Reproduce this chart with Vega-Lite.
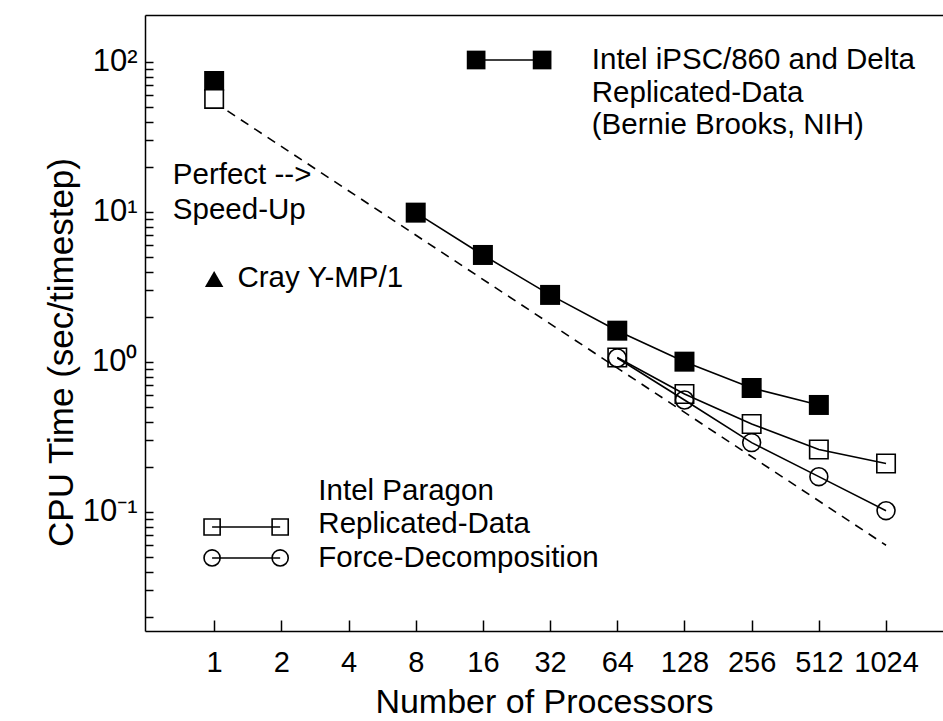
{
  "$schema": "https://vega.github.io/schema/vega-lite/v6.json",
  "width": 798,
  "height": 616,
  "autosize": {"type": "none"},
  "padding": {"left": 145, "top": 15, "right": 0, "bottom": 90},
  "background": "white",
  "config": {
    "view": {"stroke": null},
    "font": "Liberation Sans",
    "axis": {"grid": false, "domainColor": "black", "tickColor": "black", "labelColor": "black", "titleColor": "black", "domainWidth": 1.5, "tickWidth": 1.5, "labelFont": "Liberation Sans", "titleFont": "Liberation Sans"}
  },
  "datasets": {
    "series": [
      {"s": "perfect", "n": 1, "t": 54},
      {"s": "perfect", "n": 1024, "t": 0.06},
      {"s": "delta", "n": 1, "t": 74.7},
      {"s": "delta", "n": 8, "t": 9.9},
      {"s": "delta", "n": 16, "t": 5.17},
      {"s": "delta", "n": 32, "t": 2.8},
      {"s": "delta", "n": 64, "t": 1.617},
      {"s": "delta", "n": 128, "t": 1.005},
      {"s": "delta", "n": 256, "t": 0.671},
      {"s": "delta", "n": 512, "t": 0.517},
      {"s": "rd", "n": 1, "t": 56.7},
      {"s": "rd", "n": 64, "t": 1.071},
      {"s": "rd", "n": 128, "t": 0.612},
      {"s": "rd", "n": 256, "t": 0.386},
      {"s": "rd", "n": 512, "t": 0.261},
      {"s": "rd", "n": 1024, "t": 0.2106},
      {"s": "fd", "n": 64, "t": 1.063},
      {"s": "fd", "n": 128, "t": 0.558},
      {"s": "fd", "n": 256, "t": 0.29},
      {"s": "fd", "n": 512, "t": 0.172},
      {"s": "fd", "n": 1024, "t": 0.102},
      {"s": "cray", "n": 1, "t": 3.57}
    ],
    "leg": [
      {"g": "L1", "n": 14.92, "t": 103.1},
      {"g": "L1", "n": 29.47, "t": 103.1},
      {"g": "L2", "n": 0.979, "t": 0.0794},
      {"g": "L2", "n": 1.976, "t": 0.0794},
      {"g": "L3", "n": 0.979, "t": 0.0494},
      {"g": "L3", "n": 1.976, "t": 0.0494}
    ],
    "txt": [
      {"label": "Intel iPSC/860 and Delta", "n": 49.2, "t": 90.0},
      {"label": "Replicated-Data", "n": 49.2, "t": 54.5},
      {"label": "(Bernie Brooks, NIH)", "n": 49.2, "t": 33.0},
      {"label": "Perfect -->", "n": 0.653, "t": 15.3},
      {"label": "Speed-Up", "n": 0.653, "t": 8.94},
      {"label": "Cray Y-MP/1", "n": 1.272, "t": 3.18},
      {"label": "Intel Paragon", "n": 2.93, "t": 0.1202},
      {"label": "Replicated-Data", "n": 2.93, "t": 0.0724},
      {"label": "Force-Decomposition", "n": 2.93, "t": 0.043}
    ]
  },
  "layer": [
    {
      "data": {"name": "series"},
      "transform": [{"filter": "datum.s == 'perfect'"}],
      "mark": {"type": "line", "strokeDash": [9, 7], "color": "black", "strokeWidth": 1.6},
      "encoding": {
        "x": {"field": "n", "type": "quantitative", "scale": {"type": "log", "base": 2, "domain": [0.49, 1843], "nice": false},
          "axis": {"orient": "bottom", "values": [1, 2, 4, 8, 16, 32, 64, 128, 256, 512, 1024], "format": "d", "tickSize": -11, "labelPadding": 28, "labelFontSize": 29, "labelFlush": false, "labelOverlap": false,
            "title": "Number of Processors", "titleFontSize": 34, "titleFontWeight": "normal", "titleY": 81, "titleBaseline": "alphabetic"}},
        "y": {"field": "t", "type": "quantitative", "scale": {"type": "log", "domain": [0.01609, 205.7], "nice": false},
          "axis": {"orient": "left",
            "values": [0.02, 0.03, 0.04, 0.05, 0.06, 0.07, 0.08, 0.09, 0.1, 0.2, 0.3, 0.4, 0.5, 0.6, 0.7, 0.8, 0.9, 1, 2, 3, 4, 5, 6, 7, 8, 9, 10, 20, 30, 40, 50, 60, 70, 80, 90, 100],
            "labelExpr": "datum.value == 100 ? '10²' : datum.value == 10 ? '10¹' : datum.value == 1 ? '10⁰' : datum.value == 0.1 ? '10⁻¹' : ''",
            "tickSize": -8,
            "domain": true,
            "labelPadding": 16, "labelFontSize": 31, "labelFlush": false, "labelOverlap": false,
            "title": "CPU Time (sec/timestep)", "titleFontSize": 35, "titleFontWeight": "normal", "titleX": -73, "titleY": 337, "titleBaseline": "alphabetic"}}
      }
    },
    {
      "data": {"name": "series"},
      "transform": [{"filter": "datum.s != 'perfect' && datum.s != 'cray' && datum.n > 1"}],
      "mark": {"type": "line", "color": "black", "strokeWidth": 1.6},
      "encoding": {
        "x": {"field": "n", "type": "quantitative", "scale": {"type": "log", "base": 2, "domain": [0.49, 1843], "nice": false},
          "axis": {"orient": "top", "ticks": false, "labels": false, "domain": true, "title": null}},
        "y": {"field": "t", "type": "quantitative", "scale": {"type": "log", "domain": [0.01609, 205.7], "nice": false}, "axis": null},
        "detail": {"field": "s"}
      }
    },
    {
      "data": {"name": "leg"},
      "mark": {"type": "line", "color": "black", "strokeWidth": 1.6},
      "encoding": {
        "x": {"field": "n", "type": "quantitative", "axis": null},
        "y": {"field": "t", "type": "quantitative", "axis": null},
        "detail": {"field": "g"}
      }
    },
    {
      "data": {"name": "series"},
      "transform": [{"filter": "datum.s == 'delta'"}],
      "mark": {"type": "point", "shape": "square", "filled": true, "color": "black", "opacity": 1, "size": 400},
      "encoding": {
        "x": {"field": "n", "type": "quantitative", "axis": null},
        "y": {"field": "t", "type": "quantitative", "axis": null}
      }
    },
    {
      "data": {"name": "series"},
      "transform": [{"filter": "datum.s == 'rd' && datum.n == 1"}],
      "mark": {"type": "point", "shape": "square", "filled": true, "fill": "white", "stroke": "black", "strokeWidth": 1.6, "opacity": 1, "size": 340},
      "encoding": {
        "x": {"field": "n", "type": "quantitative", "axis": null},
        "y": {"field": "t", "type": "quantitative", "axis": null}
      }
    },
    {
      "data": {"name": "series"},
      "transform": [{"filter": "datum.s == 'rd' && datum.n > 1"}],
      "mark": {"type": "point", "shape": "square", "filled": false, "stroke": "black", "strokeWidth": 1.6, "opacity": 1, "size": 340},
      "encoding": {
        "x": {"field": "n", "type": "quantitative", "axis": null},
        "y": {"field": "t", "type": "quantitative", "axis": null}
      }
    },
    {
      "data": {"name": "series"},
      "transform": [{"filter": "datum.s == 'fd'"}],
      "mark": {"type": "point", "shape": "circle", "filled": false, "stroke": "black", "strokeWidth": 1.6, "opacity": 1, "size": 320},
      "encoding": {
        "x": {"field": "n", "type": "quantitative", "axis": null},
        "y": {"field": "t", "type": "quantitative", "axis": null}
      }
    },
    {
      "data": {"name": "series"},
      "transform": [{"filter": "datum.s == 'cray'"}],
      "mark": {"type": "point", "shape": "triangle-up", "filled": true, "color": "black", "opacity": 1, "size": 340},
      "encoding": {
        "x": {"field": "n", "type": "quantitative", "axis": null},
        "y": {"field": "t", "type": "quantitative", "axis": null}
      }
    },
    {
      "data": {"name": "leg"},
      "transform": [{"filter": "datum.g == 'L1'"}],
      "mark": {"type": "point", "shape": "square", "filled": true, "color": "black", "opacity": 1, "size": 350},
      "encoding": {
        "x": {"field": "n", "type": "quantitative", "axis": null},
        "y": {"field": "t", "type": "quantitative", "axis": null}
      }
    },
    {
      "data": {"name": "leg"},
      "transform": [{"filter": "datum.g == 'L2'"}],
      "mark": {"type": "point", "shape": "square", "filled": false, "stroke": "black", "strokeWidth": 1.6, "opacity": 1, "size": 260},
      "encoding": {
        "x": {"field": "n", "type": "quantitative", "axis": null},
        "y": {"field": "t", "type": "quantitative", "axis": null}
      }
    },
    {
      "data": {"name": "leg"},
      "transform": [{"filter": "datum.g == 'L3'"}],
      "mark": {"type": "point", "shape": "circle", "filled": false, "stroke": "black", "strokeWidth": 1.6, "opacity": 1, "size": 260},
      "encoding": {
        "x": {"field": "n", "type": "quantitative", "axis": null},
        "y": {"field": "t", "type": "quantitative", "axis": null}
      }
    },
    {
      "data": {"name": "txt"},
      "mark": {"type": "text", "align": "left", "baseline": "alphabetic", "fontSize": 29.5, "font": "Liberation Sans", "color": "black"},
      "encoding": {
        "x": {"field": "n", "type": "quantitative", "axis": null},
        "y": {"field": "t", "type": "quantitative", "axis": null},
        "text": {"field": "label"}
      }
    }
  ],
  "resolve": {"axis": {"x": "independent", "y": "independent"}}
}
